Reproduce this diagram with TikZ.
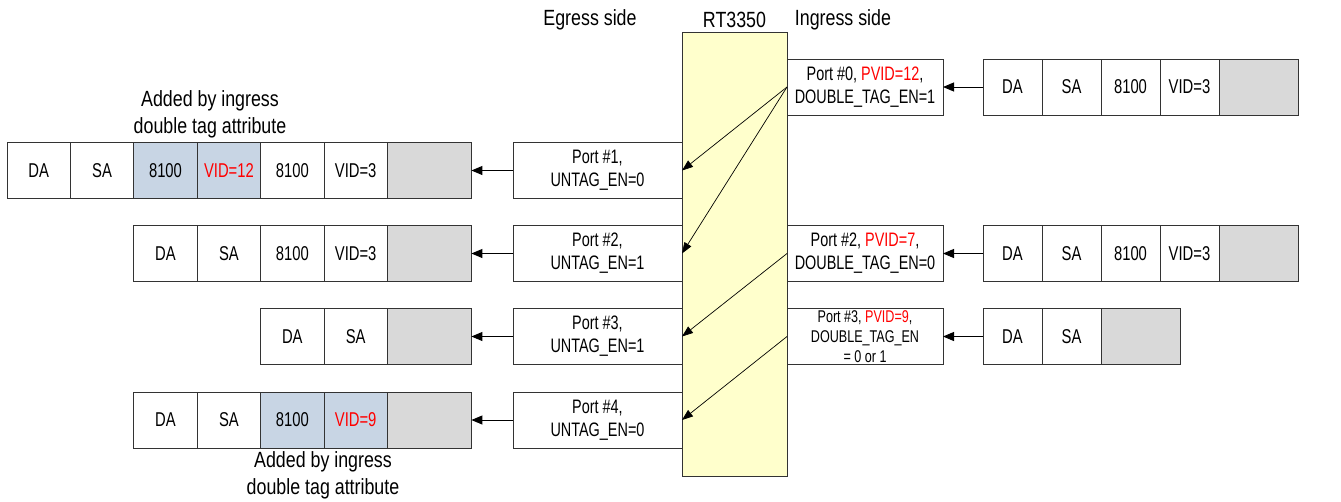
\documentclass[tikz,border=0pt]{standalone}
\usepackage{fontspec}
\setmainfont[FakeStretch=0.74]{Liberation Sans}
\newfontfamily\labelfont[FakeStretch=0.81]{Liberation Sans}
\usetikzlibrary{positioning, arrows.meta}
\definecolor{chipyellow}{HTML}{FFFFCC}
\definecolor{tagblue}{HTML}{C8D5E4}
\definecolor{paygray}{HTML}{D9D9D9}
\tikzset{
  fld/.style={draw=black!80, line width=1pt, minimum width=63.4pt, minimum height=56pt, inner sep=0pt, outer sep=0pt, font=\fontsize{20}{23}\selectfont},
  tagfld/.style={fld, fill=tagblue},
  payfld/.style={fld, fill=paygray, minimum width=84pt},
  rfld/.style={fld, minimum width=59pt},
  rpayfld/.style={rfld, fill=paygray, minimum width=79pt},
  portbox/.style={draw=black!80, line width=1pt, fill=white, minimum height=56pt, inner sep=0pt, outer sep=0pt, align=center, font=\fontsize{19.5}{23}\selectfont},
  egport/.style={portbox, minimum width=169pt},
  inport/.style={portbox, minimum width=156pt},
  chip/.style={draw=black!80, line width=1pt, fill=chipyellow, minimum width=105pt, minimum height=444pt, inner sep=0pt, outer sep=0pt},
  note/.style={font=\labelfont\fontsize{22}{27}\selectfont, align=center},
  arr/.style={-{Triangle[length=11pt,width=9pt]}, line width=1pt},
  darr/.style={-{Triangle[length=11pt,width=8pt]}, line width=0.7pt},
}

\begin{document}
\begin{tikzpicture}[x=1pt, y=-1pt]
    \useasboundingbox (0,0) rectangle (1341,501);

    % Switch
    \node[chip] (rt) at (734.5,254) {};
    \node[note] (rtname) at (734.5,20) {RT3350};
    \node[note] (egname) at (590,20) {Egress side};
    \node[note] (inname) at (843,20) {Ingress side};

    % Egress ports
    \node[egport] (eg1) at (597.5,170.5) {Port \#1,\\UNTAG\_EN=0};
    \node[egport] (eg2) at (597.5,253.5) {Port \#2,\\UNTAG\_EN=1};
    \node[egport] (eg3) at (597.5,336.5) {Port \#3,\\UNTAG\_EN=1};
    \node[egport] (eg4) at (597.5,420) {Port \#4,\\UNTAG\_EN=0};

    % Ingress ports
    \node[inport] (in0) at (865,87) {Port \#0, \textcolor{red}{PVID=12},\\DOUBLE\_TAG\_EN=1};
    \node[inport] (in2) at (865,253.5) {Port \#2, \textcolor{red}{PVID=7},\\DOUBLE\_TAG\_EN=0};
    \node[inport, font=\fontsize{17}{20}\selectfont] (in3) at (865,336.5) {Port \#3, \textcolor{red}{PVID=9},\\DOUBLE\_TAG\_EN\\= 0 or 1};

    % Incoming frames
    \node[rfld] (r0da) at (1012.5,87) {DA};
    \node[rfld, right=0pt of r0da] (r0sa) {SA};
    \node[rfld, right=0pt of r0sa] (r0tag) {8100};
    \node[rfld, right=0pt of r0tag] (r0vid) {VID=3};
    \node[rpayfld, right=0pt of r0vid] (r0pay) {};

    \node[rfld] (r2da) at (1012.5,253.5) {DA};
    \node[rfld, right=0pt of r2da] (r2sa) {SA};
    \node[rfld, right=0pt of r2sa] (r2tag) {8100};
    \node[rfld, right=0pt of r2tag] (r2vid) {VID=3};
    \node[rpayfld, right=0pt of r2vid] (r2pay) {};

    \node[rfld] (r3da) at (1012.5,336.5) {DA};
    \node[rfld, right=0pt of r3da] (r3sa) {SA};
    \node[rpayfld, right=0pt of r3sa] (r3pay) {};

    % Outgoing frames
    \node[fld] (l1da) at (38.7,170.5) {DA};
    \node[fld, right=0pt of l1da] (l1sa) {SA};
    \node[tagfld, right=0pt of l1sa] (l1tpid) {8100};
    \node[tagfld, right=0pt of l1tpid] (l1pvid) {\textcolor{red}{VID=12}};
    \node[fld, right=0pt of l1pvid] (l1tag) {8100};
    \node[fld, right=0pt of l1tag] (l1vid) {VID=3};
    \node[payfld, right=0pt of l1vid] (l1pay) {};

    \node[fld] (l2da) at (165.5,253.5) {DA};
    \node[fld, right=0pt of l2da] (l2sa) {SA};
    \node[fld, right=0pt of l2sa] (l2tag) {8100};
    \node[fld, right=0pt of l2tag] (l2vid) {VID=3};
    \node[payfld, right=0pt of l2vid] (l2pay) {};

    \node[fld] (l3da) at (292.3,336.5) {DA};
    \node[fld, right=0pt of l3da] (l3sa) {SA};
    \node[payfld, right=0pt of l3sa] (l3pay) {};

    \node[fld] (l4da) at (165.5,420) {DA};
    \node[fld, right=0pt of l4da] (l4sa) {SA};
    \node[tagfld, right=0pt of l4sa] (l4tpid) {8100};
    \node[tagfld, right=0pt of l4tpid] (l4pvid) {\textcolor{red}{VID=9}};
    \node[payfld, right=0pt of l4pvid] (l4pay) {};

    % Notes
    \node[note] (addtop) at (210,114) {Added by ingress\\double tag attribute};
    \node[note] (addbot) at (323,475) {Added by ingress\\double tag attribute};

    % Frame arrows
    \draw[arr] (r0da.west) -- (in0.east);
    \draw[arr] (r2da.west) -- (in2.east);
    \draw[arr] (r3da.west) -- (in3.east);
    \draw[arr] (eg1.west) -- (l1pay.east);
    \draw[arr] (eg2.west) -- (l2pay.east);
    \draw[arr] (eg3.west) -- (l3pay.east);
    \draw[arr] (eg4.west) -- (l4pay.east);

    % Forwarding inside the switch
    \draw[darr] (in0.west) -- (eg1.east);
    \draw[darr] (in0.west) -- (eg2.east);
    \draw[darr] (in2.west) -- (eg3.east);
    \draw[darr] (in3.west) -- (eg4.east);
\end{tikzpicture}
\end{document}
